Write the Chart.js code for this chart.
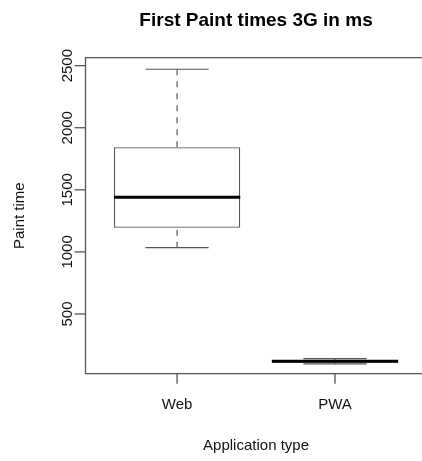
<!DOCTYPE html>
<html>
<head>
<meta charset="utf-8">
<script src="https://cdn.jsdelivr.net/npm/chart.js@4/dist/chart.umd.min.js"></script>
<style>
html,body{margin:0;padding:0;background:#fff;}
#wrap{width:422px;height:461px;position:relative;}
</style>
</head>
<body>
<div id="wrap"><canvas id="c" width="422" height="461"></canvas></div>
<script>
// ---- data ----
const categories = ['Web', 'PWA'];
const lowerWhisker = [1034, 98];
const q1 = [1195, 108];
const median = [1440, 119];
const q3 = [1843, 130];
const upperWhisker = [2471, 141];
const yTicks = [500, 1000, 1500, 2000, 2500];
const title = 'First Paint times 3G in ms';
const xTitle = 'Application type';
const yTitle = 'Paint time';

const FONT = '"Liberation Sans", Arial, Helvetica, sans-serif';
const LINE = '#555';

const boxData = categories.map((c, i) => ({x: i + 1, y: [q1[i], q3[i]]}));

const boxPlugin = {
  id: 'boxplot',
  afterDatasetsDraw(chart) {
    const ctx = chart.ctx;
    const xs = chart.scales.x, ys = chart.scales.y;
    const meta = chart.getDatasetMeta(0);
    ctx.save();
    categories.forEach((c, i) => {
      const bar = meta.data[i];
      const cx = xs.getPixelForValue(i + 1);
      const half = bar.width / 2;
      const cap = half / 2;
      // whiskers (dashed)
      ctx.strokeStyle = LINE;
      ctx.lineWidth = 1.2;
      ctx.setLineDash([6, 6]);
      ctx.beginPath();
      ctx.moveTo(cx, ys.getPixelForValue(upperWhisker[i]));
      ctx.lineTo(cx, ys.getPixelForValue(q3[i]));
      ctx.moveTo(cx, ys.getPixelForValue(lowerWhisker[i]));
      ctx.lineTo(cx, ys.getPixelForValue(q1[i]));
      ctx.stroke();
      ctx.setLineDash([]);
      // staples
      ctx.beginPath();
      [upperWhisker[i], lowerWhisker[i]].forEach(v => {
        const y = ys.getPixelForValue(v);
        ctx.moveTo(cx - cap, y);
        ctx.lineTo(cx + cap, y);
      });
      ctx.stroke();
      // median
      ctx.strokeStyle = '#000';
      ctx.lineWidth = 3;
      const my = ys.getPixelForValue(median[i]);
      ctx.beginPath();
      ctx.moveTo(cx - half, my);
      ctx.lineTo(cx + half, my);
      ctx.stroke();
    });
    ctx.restore();
  },
  afterDraw(chart) {
    const ctx = chart.ctx;
    const xs = chart.scales.x, ys = chart.scales.y;
    const a = chart.chartArea;
    ctx.save();
    // frame (left, top, bottom)
    ctx.strokeStyle = LINE;
    ctx.lineWidth = 1.3;
    ctx.beginPath();
    ctx.moveTo(a.right + 2, a.top);
    ctx.lineTo(a.left, a.top);
    ctx.lineTo(a.left, a.bottom);
    ctx.lineTo(a.right + 2, a.bottom);
    ctx.stroke();
    // y ticks
    ctx.fillStyle = '#111';
    ctx.font = '15px ' + FONT;
    yTicks.forEach(v => {
      const y = ys.getPixelForValue(v);
      ctx.beginPath();
      ctx.moveTo(a.left, y);
      ctx.lineTo(a.left - 11, y);
      ctx.stroke();
      ctx.save();
      ctx.translate(a.left - 13.5, y);
      ctx.rotate(-Math.PI / 2);
      ctx.textAlign = 'center';
      ctx.textBaseline = 'alphabetic';
      ctx.fillText(String(v), 0, 0);
      ctx.restore();
    });
    // x ticks
    ctx.textAlign = 'center';
    ctx.textBaseline = 'alphabetic';
    categories.forEach((c, i) => {
      const x = xs.getPixelForValue(i + 1);
      ctx.beginPath();
      ctx.moveTo(x, a.bottom);
      ctx.lineTo(x, a.bottom + 10);
      ctx.stroke();
      ctx.fillText(c, x, a.bottom + 35.5);
    });
    // axis titles
    ctx.fillText(xTitle, xs.getPixelForValue(1.5), a.bottom + 76);
    ctx.save();
    ctx.translate(23.5, (a.top + a.bottom) / 2);
    ctx.rotate(-Math.PI / 2);
    ctx.fillText(yTitle, 0, 0);
    ctx.restore();
    // main title
    ctx.font = 'bold 19px ' + FONT;
    ctx.fillStyle = '#000';
    ctx.fillText(title, xs.getPixelForValue(1.5), 26);
    ctx.restore();
  }
};

new Chart(document.getElementById('c'), {
  type: 'bar',
  data: {
    datasets: [{
      data: boxData,
      backgroundColor: '#fff',
      borderColor: LINE,
      borderWidth: 1.3,
      borderSkipped: false,
      barPercentage: 0.8,
      categoryPercentage: 1.0
    }]
  },
  options: {
    responsive: false,
    animation: false,
    layout: {padding: {left: 85.5, top: 57.7, bottom: 87.3, right: 0}},
    plugins: {legend: {display: false}, tooltip: {enabled: false}, title: {display: false}},
    scales: {
      x: {type: 'linear', display: false, offset: false, min: 0.42, max: 2.551, bounds: 'data',
          afterBuildTicks(s) { s.ticks = categories.map((c, i) => ({value: i + 1})); }},
      y: {type: 'linear', display: false, min: 19, max: 2564}
    }
  },
  plugins: [boxPlugin]
});
</script>
</body>
</html>
